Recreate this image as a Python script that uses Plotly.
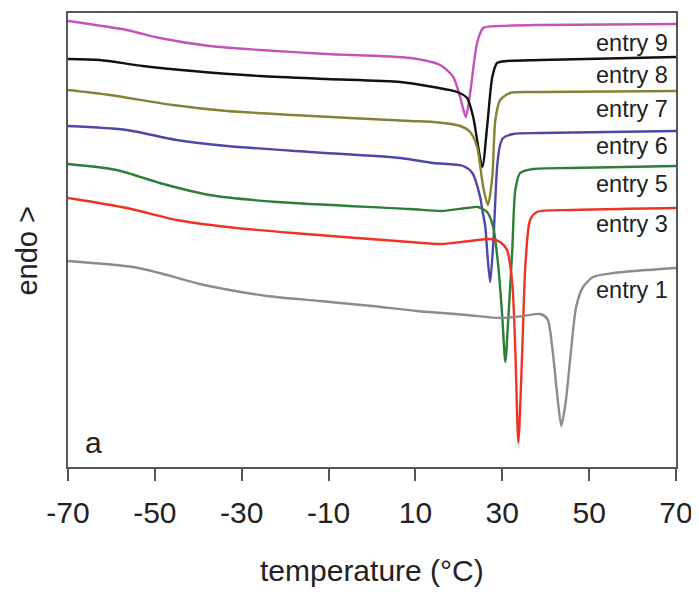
import plotly.graph_objects as go

# temperature (°C) / heat-flow signal (arbitrary units, endo up)
t_e9 = [-70, -56.5, -48.9, -37.4, -25.8, -10.4, 8.8, 15.7, 18.7, 20.3, 21.6, 22.6, 24.2, 25.6, 29.5, 38.7, 70]
s_e9 = [44.6, 43.7, 42.9, 42.1, 41.7, 41.3, 40.9, 40.2, 39.0, 37.0, 35.0, 37.4, 42.4, 43.9, 44.1, 44.2, 44.3]

t_e8 = [-70, -62.7, -52.8, -41.3, -25.8, -10.4, 6.5, 14.1, 19.6, 21.9, 23.3, 25.4, 26.5, 27.7, 28.8, 31.1, 38.7, 70]
s_e8 = [40.8, 40.7, 40.1, 39.6, 39.1, 38.8, 38.5, 38.0, 37.5, 36.9, 35.0, 30.0, 34.0, 39.0, 40.4, 40.6, 40.7, 41.0]

t_e7 = [-70, -60.4, -45.9, -33.4, -18.2, 8.8, 14.1, 20.3, 22.6, 24.2, 25.6, 26.7, 27.7, 28.4, 29.5, 31.8, 38.7, 70]
s_e7 = [37.7, 37.2, 36.2, 35.6, 35.2, 34.6, 34.5, 34.1, 33.5, 32.0, 28.0, 26.2, 29.0, 34.7, 36.7, 37.4, 37.5, 37.6]

t_e6 = [-70, -56.5, -45.0, -33.4, -14.3, 6.5, 14.1, 21.0, 23.1, 24.9, 25.4, 26.1, 26.5, 27.2, 27.9, 28.4, 28.8, 29.5, 30.2, 32.5, 38.7, 70]
s_e6 = [34.1, 33.7, 32.7, 32.1, 31.5, 30.9, 30.4, 30.1, 29.4, 27.0, 25.7, 24.0, 21.7, 18.5, 22.2, 26.7, 30.0, 32.2, 32.9, 33.3, 33.4, 33.6]

t_e5 = [-70, -58.8, -48.9, -37.4, -21.9, 8.8, 16.0, 21.9, 24.4, 26.5, 27.9, 29.1, 30.0, 30.7, 31.4, 32.3, 33.0, 34.1, 37.1, 45.7, 70]
s_e5 = [30.3, 29.7, 28.4, 27.2, 26.5, 25.8, 25.6, 25.9, 26.0, 25.5, 24.0, 20.0, 15.0, 10.5, 15.0, 21.7, 27.7, 29.4, 29.8, 29.9, 30.1]

t_e3 = [-70, -56.5, -45.0, -33.4, -18.2, 8.8, 16.0, 22.5, 27.2, 29.5, 31.1, 32.3, 33.0, 33.7, 34.6, 35.3, 36.4, 38.0, 45.7, 70]
s_e3 = [26.9, 25.9, 24.7, 24.0, 23.4, 22.5, 22.3, 22.6, 22.8, 22.5, 21.7, 18.4, 11.7, 2.4, 11.7, 20.0, 24.7, 25.5, 25.7, 25.9]

t_e1 = [-70, -55.0, -48.9, -39.7, -32.8, -24.2, -12.0, 0.0, 10.4, 21.9, 29.5, 34.8, 38.7, 40.4, 41.5, 42.7, 43.6, 44.6, 45.8, 47.0, 48.6, 50.9, 55.6, 70]
s_e1 = [20.6, 20.0, 19.4, 18.3, 17.7, 17.1, 16.6, 16.1, 15.6, 15.2, 14.9, 15.1, 15.3, 14.8, 12.0, 7.0, 4.1, 6.5, 11.5, 16.0, 18.0, 19.0, 19.4, 19.9]

series_names = ["entry 9", "entry 8", "entry 7", "entry 6", "entry 5", "entry 3", "entry 1"]
series_t = [t_e9, t_e8, t_e7, t_e6, t_e5, t_e3, t_e1]
series_s = [s_e9, s_e8, s_e7, s_e6, s_e5, s_e3, s_e1]
label_y = [42.4, 39.2, 35.8, 32.1, 28.3, 24.3, 17.7]
colors = ["#C552B9", "#111111", "#858236", "#4A4AA6", "#2D7F38", "#EE3325", "#8E8B89"]

x_ticks = [-70, -50, -30, -10, 10, 30, 50, 70]

fig = go.Figure()
for name, t, s, c in zip(series_names, series_t, series_s, colors):
    fig.add_trace(go.Scatter(x=t, y=s, mode="lines", name=name,
                             line=dict(color=c, width=2.4, shape="spline", smoothing=0.7)))

font = "Liberation Sans, Arial, sans-serif"
ann = []
for name, ly in zip(series_names, label_y):
    ann.append(dict(x=68.6, y=ly, xref="x", yref="y", text=name, showarrow=False,
                    xanchor="right", yanchor="middle", font=dict(size=23.5, color="#222", family=font)))
ann.append(dict(x=-66.5, y=2.5, xref="x", yref="y", text="a", showarrow=False,
                xanchor="left", yanchor="middle", font=dict(size=30, color="#222", family=font)))
ann.append(dict(x=0.5, y=-0.227, xref="paper", yref="paper", text="temperature (°C)", showarrow=False,
                xanchor="center", yanchor="middle", font=dict(size=30, color="#222", family=font)))
ann.append(dict(x=-0.068, y=0.476, xref="paper", yref="paper", text="endo >", showarrow=False,
                textangle=-90, xanchor="center", yanchor="middle", borderpad=0,
                font=dict(size=29, color="#222", family=font)))

# page body adds ~8px offset, so the figure is sized to fit the 699x592 window
fig.update_layout(
    width=691, height=584,
    margin=dict(l=60, r=23, t=5, b=125, autoexpand=False),
    paper_bgcolor="white", plot_bgcolor="white",
    showlegend=False,
    annotations=ann,
    font=dict(family=font, color="#222"),
)
fig.update_xaxes(range=[-70, 70], tickvals=x_ticks, ticktext=[str(v) for v in x_ticks],
                 ticks="outside", ticklen=12, tickwidth=1.5, tickcolor="#555",
                 ticklabelstandoff=6,
                 showline=True, linecolor="#555", linewidth=1.5, mirror=True, automargin=False,
                 showgrid=False, zeroline=False, tickfont=dict(size=30, color="#222", family=font))
fig.update_yaxes(range=[0, 45.4], showticklabels=False, ticks="", automargin=False,
                 showline=True, linecolor="#555", linewidth=1.5, mirror=True,
                 showgrid=False, zeroline=False)

fig.write_html("out.html")
